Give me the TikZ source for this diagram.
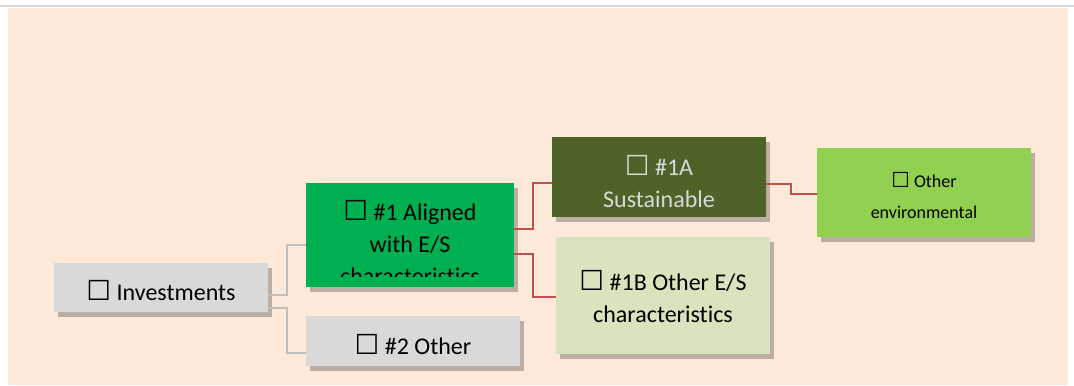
\documentclass[tikz,border=0pt]{standalone}
\usepackage{fontspec}
\setmainfont{Carlito}[Ligatures=NoCommon]
\newfontfamily\symfont{DejaVu Sans}
\usepackage{xcolor}
\usetikzlibrary{shadows}

\definecolor{peach}{HTML}{FCE9DA}
\definecolor{greybox}{HTML}{D9D9D9}
\definecolor{alignedgreen}{HTML}{00B050}
\definecolor{olivedark}{HTML}{4F6228}
\definecolor{olivelight}{HTML}{D7E4BD}
\definecolor{limegreen}{HTML}{92D050}
\definecolor{redline}{HTML}{C0504D}
\definecolor{greyline}{HTML}{BFBFBF}

\newcommand{\chk}{{\symfont\scalebox{1.15}{☐}}}

\begin{document}
\begin{tikzpicture}[
  x=0.5pt, y=-0.5pt,
  font=\fontsize{12}{16}\selectfont,
  box/.style={inner sep=0pt, align=center, minimum width=107pt,
    drop shadow={shadow xshift=2pt, shadow yshift=-2.5pt, fill=black, opacity=.25}},
  txt/.style={inner sep=0pt, align=center, yshift=-1.5pt},
  gline/.style={draw=greyline, line width=1pt},
  rline/.style={draw=redline, line width=1pt}
]
% page and background
\useasboundingbox (0,0) rectangle (1074,385);
\fill[white] (0,0) rectangle (1074,385);
\fill[greybox] (0,5.5) rectangle (1074,7.5);
\fill[peach] (8,8) rectangle (1068,385);

% boxes
\node[box, fill=greybox, minimum height=24.5pt] (inv) at (161,287.5) {};
\node[txt] (invtxt) at (inv.center) {\chk\ Investments};
\node[box, fill=alignedgreen, minimum width=104pt, minimum height=52pt] (al) at (410,235) {};
\begin{scope}
  \clip (al.north west) rectangle (514,276);
  \node[txt, yshift=-2.5pt] (altxt) at (al.center) {\chk\ \#1 Aligned\\with E/S\\characteristics};
\end{scope}
\node[box, fill=greybox, minimum height=25pt] (oth) at (413,341) {};
\node[txt, yshift=-0.5pt] (othtxt) at (oth.center) {\chk\ \#2 Other};
\node[box, fill=olivedark, minimum height=40pt] (sus) at (659,177) {};
\node[txt, text=greybox, yshift=-1pt] (sustxt) at (sus.center) {\chk\ \#1A\\Sustainable};
\node[box, fill=olivelight, minimum height=58.5pt] (oes) at (663,295.5) {};
\node[txt, yshift=1pt] (oestxt) at (oes.center) {\chk\ \#1B Other E/S\\characteristics};
\node[box, fill=limegreen, minimum height=44.5pt] (env) at (924,192.5) {};
\node[txt, font=\fontsize{9}{15.5}\selectfont] (envtxt) at (env.center) {\chk\ Other\\environmental};

% connectors
\draw[gline] ([yshift=-3.75pt]inv.east) -- ++(19,0) |- ([yshift=-5pt]al.west);
\draw[gline] ([yshift=-10.25pt]inv.east) -- ++(19,0) |- ([yshift=-6pt]oth.west);
\draw[rline] ([yshift=3pt]al.east) -- ++(19,0) |- ([yshift=-3pt]sus.west);
\draw[rline] ([yshift=-9.5pt]al.east) -- ++(19,0) |- ([yshift=-0.75pt]oes.west);
\draw[rline] ([yshift=-3.5pt]sus.east) -- ++(25,0) |- ([yshift=-0.75pt]env.west);
\end{tikzpicture}
\end{document}
